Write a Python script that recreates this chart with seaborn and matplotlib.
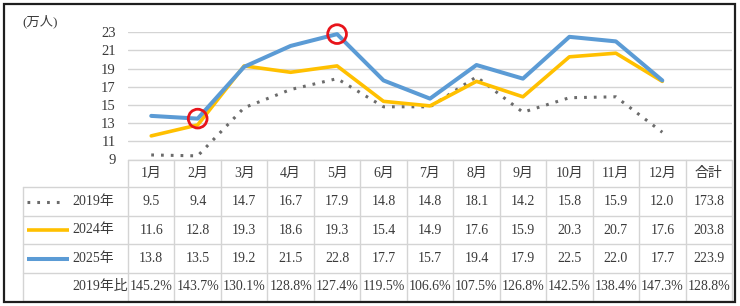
import matplotlib
matplotlib.use("Agg")
import matplotlib.pyplot as plt
import seaborn as sns
import pandas as pd
from matplotlib.patches import Rectangle
from matplotlib.lines import Line2D

# ---------------- data ----------------
months = ["1月", "2月", "3月", "4月", "5月", "6月", "7月", "8月", "9月", "10月", "11月", "12月"]
total_label = "合計"
series_names = ["2019年", "2024年", "2025年"]
v2019 = [9.5, 9.4, 14.7, 16.7, 17.9, 14.8, 14.8, 18.1, 14.2, 15.8, 15.9, 12.0]
v2024 = [11.6, 12.8, 19.3, 18.6, 19.3, 15.4, 14.9, 17.6, 15.9, 20.3, 20.7, 17.6]
v2025 = [13.8, 13.5, 19.2, 21.5, 22.8, 17.7, 15.7, 19.4, 17.9, 22.5, 22.0, 17.7]
totals = [173.8, 203.8, 223.9]
ratio_label = "2019年比"
ratios = ["145.2%", "143.7%", "130.1%", "128.8%", "127.4%", "119.5%", "106.6%",
          "107.5%", "126.8%", "142.5%", "138.4%", "147.3%", "128.8%"]
yticks = [9, 11, 13, 15, 17, 19, 21, 23]
highlight_months = ["2月", "5月"]
unit_label = "(万人)"

# ---------------- style ----------------
sns.set_theme(style="white")
plt.rcParams["font.family"] = ["Liberation Serif", "Noto Sans CJK JP"]
TXT = "#3a3a3a"
GRID = "#D4D4D4"
colors = ["#6b6b6b", "#FFC000", "#5B9BD5"]

W, H = 740, 306
fig = plt.figure(figsize=(W / 100, H / 100), dpi=100)
fig.patch.set_facecolor("white")

def fx(px):
    return px / W

def fy(py):
    return 1 - py / H

left, right = 128, 732
y9, y23 = 159.5, 32.3
ax = fig.add_axes([fx(left), fy(y9), (right - left) / W, (y9 - y23) / H])
ax.set_xlim(-0.5, len(months) + 0.5)
ax.set_ylim(9, 23)

df = pd.DataFrame({"month": months, "idx": range(len(months)),
                   series_names[0]: v2019, series_names[1]: v2024, series_names[2]: v2025})

sns.lineplot(data=df, x="idx", y=series_names[0], ax=ax, color=colors[0], lw=2.2,
             linestyle=(0, (0.9, 2.3)), dash_capstyle="butt")
sns.lineplot(data=df, x="idx", y=series_names[1], ax=ax, color=colors[1], lw=2.6)
sns.lineplot(data=df, x="idx", y=series_names[2], ax=ax, color=colors[2], lw=2.9)
for ln in ax.lines:
    ln.set_clip_on(False)

hl = df[df["month"].isin(highlight_months)]
ax.scatter(hl["idx"], hl[series_names[2]], s=13.5 ** 2, facecolors="none",
           edgecolors="#E8141B", linewidths=2.0, zorder=5, clip_on=False)

ax.set_yticks(yticks)
ax.set_yticklabels([str(t) for t in yticks])
ax.set_xticks([])
ax.tick_params(axis="y", length=0, pad=9, labelsize=10.5, labelcolor=TXT)
ax.yaxis.grid(True, color=GRID, lw=1)
ax.set_axisbelow(True)
ax.set_xlabel("")
ax.set_ylabel("")
for s in ax.spines.values():
    s.set_visible(False)
ax.patch.set_alpha(0)

fig.text(fx(22), fy(21), unit_label, ha="left", va="center", fontsize=9.5, color=TXT)

# ---------------- table ----------------
tax = fig.add_axes([0, 0, 1, 1])
tax.set_xlim(0, W)
tax.set_ylim(H, 0)
tax.axis("off")
tax.patch.set_alpha(0)

ncol = len(months) + 1
cw = (right - left) / ncol
col_x = [left + i * cw for i in range(ncol + 1)]
rows_y = [160, 187.3, 215.7, 244.3, 273.3, 300.5]
lab_x0 = 22.7

# horizontal lines
tax.plot([left, right], [rows_y[0]] * 2, color=GRID, lw=1)
for yy in rows_y[1:]:
    tax.plot([lab_x0, right], [yy] * 2, color=GRID, lw=1)
# vertical lines
tax.plot([lab_x0] * 2, [rows_y[1], rows_y[-1]], color=GRID, lw=1)
for xx in col_x:
    tax.plot([xx] * 2, [rows_y[0], rows_y[-1]], color=GRID, lw=1)

def rc(i):
    return (rows_y[i] + rows_y[i + 1]) / 2

FS = 10
headers = months + [total_label]
for j, h in enumerate(headers):
    tax.text(col_x[j] + cw / 2, rc(0), h, ha="center", va="center", fontsize=FS, color=TXT)

series_vals = [v2019, v2024, v2025]
styles = [dict(color=colors[0], lw=2.2, linestyle=(0, (0.9, 2.3)), dash_capstyle="butt"),
          dict(color=colors[1], lw=2.6, solid_capstyle="butt"),
          dict(color=colors[2], lw=2.9, solid_capstyle="butt")]
sample_end = [63, 69, 69]
for i, (name, vals) in enumerate(zip(series_names, series_vals)):
    r = i + 1
    tax.add_line(Line2D([27, sample_end[i]], [rc(r)] * 2, **styles[i]))
    tax.text(72, rc(r), name, ha="left", va="center", fontsize=FS, color=TXT)
    for j, v in enumerate(vals + [totals[i]]):
        tax.text(col_x[j] + cw / 2, rc(r), f"{v:.1f}", ha="center", va="center",
                 fontsize=FS, color=TXT)

tax.text(72, rc(4), ratio_label, ha="left", va="center", fontsize=FS, color=TXT)
for j, p in enumerate(ratios):
    tax.text(col_x[j] + cw / 2, rc(4), p, ha="center", va="center", fontsize=FS, color=TXT)

# outer frame
fig.patches.append(Rectangle((fx(4), fy(302)), (735 - 4) / W, (302 - 4) / H,
                             transform=fig.transFigure, fill=False, ec="#1e1e1e", lw=1.6))

fig.savefig("out.png", dpi=100)
